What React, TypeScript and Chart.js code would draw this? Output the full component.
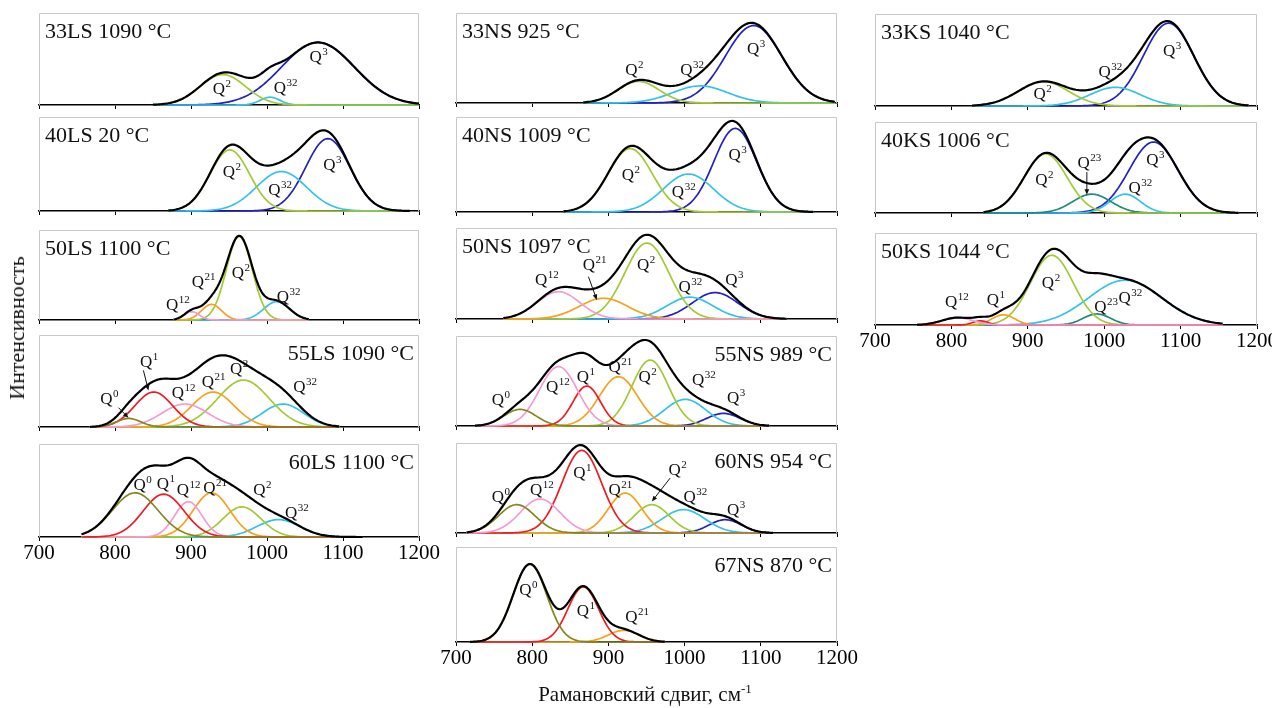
import { useEffect, useRef } from 'react';
import { Chart, registerables } from 'chart.js';

Chart.register(...registerables);

// Band = [species, centre (cm-1), peak height (share of panel height), Gaussian sigma (cm-1)]
type Band = [string, number, number, number];
// Note = [letter, superscript, left x (cm-1), baseline y (share of panel height)]
type Note = [string, string, number, number];
// Pointer = [fromX, fromY, toX, toY] in cm-1 / share of panel height
type Pointer = [number, number, number, number];

const shiftTicks = [700, 800, 900, 1000, 1100, 1200];

// ---- LS series ----
const bands33LS: Band[] = [['Q2', 942, 0.33, 30], ['Q32', 1004, 0.085, 13], ['Q3', 1067, 0.68, 48]];
const span33LS = [850, 1200];
const notes33LS: Note[] = [['Q', '2', 928.6, 0.12], ['Q', '32', 1009, 0.13], ['Q', '3', 1056, 0.47]];

const bands40LS: Band[] = [['Q2', 951, 0.65, 26], ['Q32', 1019, 0.42, 33], ['Q3', 1080, 0.77, 29]];
const span40LS = [870, 1188];
const notes40LS: Note[] = [['Q', '2', 941.7, 0.365], ['Q', '32', 1001.6, 0.17], ['Q', '3', 1073.9, 0.436]];

const bands50LS: Band[] = [['Q12', 901, 0.093, 10], ['Q21', 927, 0.174, 13], ['Q2', 963.5, 0.93, 17], ['Q32', 1012.7, 0.204, 17]];
const span50LS = [877, 1056];
const notes50LS: Note[] = [['Q', '12', 867.2, 0.11], ['Q', '21', 901, 0.363], ['Q', '2', 953.5, 0.463], ['Q', '32', 1012.7, 0.2]];

const bands55LS: Band[] = [['Q0', 818, 0.093, 16], ['Q1', 851, 0.38, 25], ['Q12', 892, 0.25, 30], ['Q21', 929, 0.38, 28], ['Q2', 969, 0.51, 34], ['Q32', 1021, 0.25, 27]];
const span55LS = [767, 1096];
const notes55LS: Note[] = [['Q', '0', 780.5, 0.25], ['Q', '1', 833, 0.65], ['Q', '12', 874.7, 0.32], ['Q', '21', 914, 0.43], ['Q', '2', 951.3, 0.58], ['Q', '32', 1034.5, 0.38]];
const pointers55LS: Pointer[] = [[804.6, 0.21, 817.7, 0.1], [837.4, 0.615, 844, 0.396]];

const bands60LS: Band[] = [['Q0', 826.5, 0.475, 30], ['Q1', 864, 0.46, 27], ['Q12', 896.5, 0.38, 18], ['Q21', 927, 0.475, 24], ['Q2', 967, 0.324, 25], ['Q32', 1015, 0.187, 28]];
const span60LS = [756, 1126];
const notes60LS: Note[] = [['Q', '0', 824.3, 0.505], ['Q', '1', 855, 0.52], ['Q', '12', 881.3, 0.45], ['Q', '21', 916.2, 0.47], ['Q', '2', 982, 0.45], ['Q', '32', 1023.6, 0.2]];

// ---- NS series ----
const bands33NS: Band[] = [['Q2', 939.5, 0.24, 27], ['Q32', 1020.5, 0.19, 36], ['Q3', 1090.5, 0.86, 37]];
const span33NS = [867, 1198];
const notes33NS: Note[] = [['Q', '2', 922, 0.31], ['Q', '32', 994.2, 0.31], ['Q', '3', 1081.8, 0.55]];

const bands40NS: Band[] = [['Q2', 928.5, 0.667, 29], ['Q32', 1005, 0.4, 33], ['Q3', 1066.5, 0.88, 28]];
const span40NS = [841, 1169];
const notes40NS: Note[] = [['Q', '2', 917.6, 0.337], ['Q', '32', 983.3, 0.16], ['Q', '3', 1057.7, 0.547]];

const bands50NS: Band[] = [['Q12', 834.4, 0.3, 28], ['Q21', 893.5, 0.228, 32], ['Q2', 950.5, 0.835, 29], ['Q32', 1007, 0.24, 30], ['Q3', 1040, 0.29, 30]];
const span50NS = [762, 1134];
const notes50NS: Note[] = [['Q', '12', 803.8, 0.374], ['Q', '21', 866.4, 0.54], ['Q', '2', 937.4, 0.54], ['Q', '32', 992, 0.3], ['Q', '3', 1053.3, 0.374]];
const pointers50NS: Pointer[] = [[873.8, 0.465, 884.8, 0.21]];

const bands55NS: Band[] = [['Q0', 784, 0.185, 21], ['Q12', 834.4, 0.66, 25], ['Q1', 871.6, 0.444, 18], ['Q21', 913.2, 0.548, 25], ['Q2', 954.8, 0.733, 24], ['Q32', 1000.8, 0.296, 27], ['Q3', 1051, 0.14, 22]];
const span55NS = [725, 1112];
const notes55NS: Note[] = [['Q', '0', 747, 0.233], ['Q', '12', 818.2, 0.381], ['Q', '1', 858.5, 0.49], ['Q', '21', 900, 0.6], ['Q', '2', 939.5, 0.49], ['Q', '32', 1009.6, 0.456], ['Q', '3', 1055.6, 0.252]];

const bands60NS: Band[] = [['Q0', 779.7, 0.315, 24], ['Q12', 810.3, 0.378, 26], ['Q1', 865, 0.918, 26], ['Q21', 922, 0.444, 22], ['Q2', 957, 0.315, 23], ['Q32', 998.6, 0.26, 28], ['Q3', 1053.3, 0.148, 21]];
const span60NS = [714, 1117];
const notes60NS: Note[] = [['Q', '0', 747, 0.35], ['Q', '12', 797.2, 0.42], ['Q', '1', 854, 0.61], ['Q', '21', 900, 0.42], ['Q', '2', 978.9, 0.645], ['Q', '32', 998.6, 0.35], ['Q', '3', 1055.6, 0.2]];
const pointers60NS: Pointer[] = [[981, 0.61, 957, 0.35]];

const bands67NS: Band[] = [['Q0', 797, 0.82, 22], ['Q1', 867, 0.58, 20], ['Q21', 920, 0.123, 20]];
const span67NS = [718, 975];
const notes67NS: Note[] = [['Q', '0', 783, 0.495], ['Q', '1', 858.5, 0.27], ['Q', '21', 922, 0.214]];

// ---- KS series ----
const bands33KS: Band[] = [['Q2', 920.5, 0.264, 33], ['Q32', 1014.4, 0.203, 33], ['Q3', 1084.2, 0.9, 33]];
const span33KS = [827, 1189];
const notes33KS: Note[] = [['Q', '2', 907.4, 0.08], ['Q', '32', 992.5, 0.32], ['Q', '3', 1076.9, 0.54]];

const bands40KS: Band[] = [['Q2', 923.3, 0.65, 28], ['Q23', 983.8, 0.207, 25], ['Q32', 1027.5, 0.207, 20], ['Q3', 1064.6, 0.78, 32]];
const span40KS = [842, 1176];
const notes40KS: Note[] = [['Q', '2', 909.6, 0.31], ['Q', '23', 965, 0.49], ['Q', '32', 1031.8, 0.216], ['Q', '3', 1055, 0.527]];
const pointers40KS: Pointer[] = [[977.3, 0.45, 977.3, 0.2]];

const bands50KS: Band[] = [['Q12', 808, 0.08, 20], ['Q1', 838, 0.045, 10], ['Q21', 868, 0.11, 15], ['Q2', 931.4, 0.758, 28], ['Q23', 990.4, 0.12, 18], ['Q32', 1027.5, 0.487, 48]];
const span50KS = [755, 1156];
const notes50KS: Note[] = [['Q', '12', 791.7, 0.2], ['Q', '1', 846.3, 0.217], ['Q', '2', 918.4, 0.4], ['Q', '23', 986.9, 0.145], ['Q', '32', 1018.7, 0.236]];

const bandColors: Record<string, string> = {
  Q0: '#85851e',
  Q1: '#ec1c24',
  Q12: '#f39bd5',
  Q21: '#f7a11f',
  Q2: '#a2c936',
  Q23: '#1f8a7c',
  Q32: '#33c3ea',
  Q3: '#2121c4',
};

type PanelSpec = {
  title: string;
  titleRight?: boolean;
  bands: Band[];
  span: number[];
  notes: Note[];
  pointers?: Pointer[];
};

const columns: PanelSpec[][] = [
  [
    { title: '33LS 1090 °C', bands: bands33LS, span: span33LS, notes: notes33LS },
    { title: '40LS 20 °C', bands: bands40LS, span: span40LS, notes: notes40LS },
    { title: '50LS 1100 °C', bands: bands50LS, span: span50LS, notes: notes50LS },
    { title: '55LS 1090 °C', titleRight: true, bands: bands55LS, span: span55LS, notes: notes55LS, pointers: pointers55LS },
    { title: '60LS 1100 °C', titleRight: true, bands: bands60LS, span: span60LS, notes: notes60LS },
  ],
  [
    { title: '33NS 925 °C', bands: bands33NS, span: span33NS, notes: notes33NS },
    { title: '40NS 1009 °C', bands: bands40NS, span: span40NS, notes: notes40NS },
    { title: '50NS 1097 °C', bands: bands50NS, span: span50NS, notes: notes50NS, pointers: pointers50NS },
    { title: '55NS 989 °C', titleRight: true, bands: bands55NS, span: span55NS, notes: notes55NS },
    { title: '60NS 954 °C', titleRight: true, bands: bands60NS, span: span60NS, notes: notes60NS, pointers: pointers60NS },
    { title: '67NS 870 °C', titleRight: true, bands: bands67NS, span: span67NS, notes: notes67NS },
  ],
  [
    { title: '33KS 1040 °C', bands: bands33KS, span: span33KS, notes: notes33KS },
    { title: '40KS 1006 °C', bands: bands40KS, span: span40KS, notes: notes40KS, pointers: pointers40KS },
    { title: '50KS 1044 °C', bands: bands50KS, span: span50KS, notes: notes50KS },
  ],
];

// page geometry of the panel frames: [left, right] per column, [top, axis] per row
const columnEdges = [[39, 419], [456, 837], [875, 1257]];
const columnRows = [
  [[13, 105], [117, 211], [230, 320], [335, 427], [444, 537]],
  [[13, 103], [117, 212], [228, 319], [336, 426], [443, 533], [547, 642]],
  [[14, 106], [122, 213], [233, 325]],
];

const PAD_X = 30;
const PAD_TOP = 2;
const TICK_LEN = 4;
const FONT = '"Liberation Serif", "Times New Roman", serif';

function bandValue(b: Band, x: number) {
  const [, c, h, s] = b;
  return h * Math.exp(-((x - c) * (x - c)) / (2 * s * s));
}

function drawArrow(ctx: CanvasRenderingContext2D, x1: number, y1: number, x2: number, y2: number) {
  const ang = Math.atan2(y2 - y1, x2 - x1);
  const head = 6;
  ctx.beginPath();
  ctx.moveTo(x1, y1);
  ctx.lineTo(x2 - Math.cos(ang) * 3, y2 - Math.sin(ang) * 3);
  ctx.stroke();
  ctx.beginPath();
  ctx.moveTo(x2, y2);
  ctx.lineTo(x2 - head * Math.cos(ang - 0.4), y2 - head * Math.sin(ang - 0.4));
  ctx.lineTo(x2 - head * Math.cos(ang + 0.4), y2 - head * Math.sin(ang + 0.4));
  ctx.closePath();
  ctx.fill();
}

function makeDecor(panel: PanelSpec) {
  return {
    id: 'panelDecor',
    beforeDatasetsDraw(chart: any) {
      const { ctx, chartArea: a } = chart;
      const l = Math.round(a.left) + 0.5;
      const r = Math.round(a.right) - 0.5;
      const t = Math.round(a.top) + 0.5;
      ctx.save();
      ctx.strokeStyle = '#c8c8c8';
      ctx.lineWidth = 1;
      ctx.beginPath();
      ctx.moveTo(l, a.bottom);
      ctx.lineTo(l, t);
      ctx.lineTo(r, t);
      ctx.lineTo(r, a.bottom);
      ctx.stroke();
      ctx.restore();
    },
    afterDatasetsDraw(chart: any) {
      const { ctx, chartArea: a, scales } = chart;
      const sx = scales.x;
      const sy = scales.y;
      ctx.save();
      ctx.fillStyle = '#111';
      ctx.strokeStyle = '#111';
      ctx.textBaseline = 'alphabetic';
      ctx.font = `22px ${FONT}`;
      if (panel.titleRight) {
        ctx.textAlign = 'right';
        ctx.fillText(panel.title, a.right - 5, a.top + 25);
      } else {
        ctx.textAlign = 'left';
        ctx.fillText(panel.title, a.left + 6, a.top + 25);
      }
      ctx.textAlign = 'left';
      for (const [base, sup, vx, vy] of panel.notes) {
        const px = sx.getPixelForValue(vx);
        const py = sy.getPixelForValue(vy);
        ctx.font = `17px ${FONT}`;
        ctx.fillText(base, px, py);
        const w = ctx.measureText(base).width;
        ctx.font = `11px ${FONT}`;
        ctx.fillText(sup, px + w + 0.5, py - 7);
      }
      ctx.lineWidth = 1;
      for (const [fx, fy, tx, ty] of panel.pointers || []) {
        drawArrow(ctx, sx.getPixelForValue(fx), sy.getPixelForValue(fy), sx.getPixelForValue(tx), sy.getPixelForValue(ty));
      }
      ctx.restore();
    },
  };
}

type PanelProps = { panel: PanelSpec; left: number; right: number; top: number; axis: number; labelled: boolean };

function SpectrumPanel({ panel, left, right, top, axis, labelled }: PanelProps) {
  const ref = useRef<HTMLCanvasElement>(null);
  const axisH = labelled ? 36 : 6;
  const width = right - left + 2 * PAD_X;
  const height = axis - top + PAD_TOP + axisH;

  useEffect(() => {
    if (!ref.current) return;
    const xs: number[] = [];
    for (let x = panel.span[0]; x <= panel.span[1]; x += 2) xs.push(x);
    const envelope = xs.map((x) => ({ x, y: panel.bands.reduce((s, b) => s + bandValue(b, x), 0) }));
    const common = { pointRadius: 0, fill: false, tension: 0, clip: false as const, borderJoinStyle: 'round' as const };
    const datasets: any[] = [
      { ...common, label: 'sum', data: envelope, borderColor: '#000', borderWidth: 2.2 },
      ...panel.bands.map((b) => ({
        ...common,
        label: b[0],
        data: xs.map((x) => ({ x, y: bandValue(b, x) })),
        borderColor: bandColors[b[0]],
        borderWidth: 1.7,
      })),
    ];
    const chart = new Chart(ref.current, {
      type: 'line',
      data: { datasets },
      options: {
        animation: false,
        responsive: false,
        maintainAspectRatio: false,
        events: [],
        layout: { padding: { left: PAD_X, right: PAD_X, top: PAD_TOP, bottom: 0 } },
        plugins: { legend: { display: false }, tooltip: { enabled: false } },
        scales: {
          x: {
            type: 'linear',
            min: 700,
            max: 1200,
            afterBuildTicks: (s: any) => {
              s.ticks = shiftTicks.map((v) => ({ value: v }));
            },
            afterFit: (s: any) => {
              s.height = axisH;
            },
            grid: { display: true, drawOnChartArea: false, drawTicks: true, tickLength: TICK_LEN, color: '#000', lineWidth: 1 },
            border: { display: true, color: '#000', width: 1.6 },
            ticks: {
              display: labelled,
              autoSkip: false,
              maxRotation: 0,
              padding: 2,
              color: '#000',
              font: { family: FONT, size: 21, lineHeight: 1 },
              callback: (v: any) => String(v),
            },
          },
          y: { display: false, min: 0, max: 1 },
        },
      } as any,
      plugins: [makeDecor(panel)],
    });
    return () => chart.destroy();
  }, [panel, axisH]);

  return (
    <canvas
      ref={ref}
      width={width}
      height={height}
      style={{ position: 'absolute', left: left - PAD_X, top: top - PAD_TOP, width, height }}
    />
  );
}

export default function App() {
  return (
    <div
      style={{
        position: 'fixed',
        left: 0,
        top: 0,
        width: 1272,
        height: 708,
        background: '#fff',
        fontFamily: FONT,
        color: '#111',
        overflow: 'hidden',
      }}
    >
      {columns.map((col, ci) =>
        col.map((panel, ri) => {
          const [left, right] = columnEdges[ci];
          const [top, axis] = columnRows[ci][ri];
          return (
            <SpectrumPanel
              key={panel.title}
              panel={panel}
              left={left}
              right={right}
              top={top}
              axis={axis}
              labelled={ri === col.length - 1}
            />
          );
        })
      )}
      <div
        style={{
          position: 'absolute',
          left: 17,
          top: 328,
          transform: 'translate(-50%, -50%) rotate(-90deg)',
          fontSize: 22,
          lineHeight: 1,
          whiteSpace: 'nowrap',
        }}
      >
        Интенсивность
      </div>
      <div
        style={{
          position: 'absolute',
          left: 645,
          top: 694,
          transform: 'translate(-50%, -50%)',
          fontSize: 21,
          lineHeight: 1,
          whiteSpace: 'nowrap',
        }}
      >
        Рамановский сдвиг, см
        <span style={{ fontSize: 13, position: 'relative', top: -8 }}>-1</span>
      </div>
    </div>
  );
}
